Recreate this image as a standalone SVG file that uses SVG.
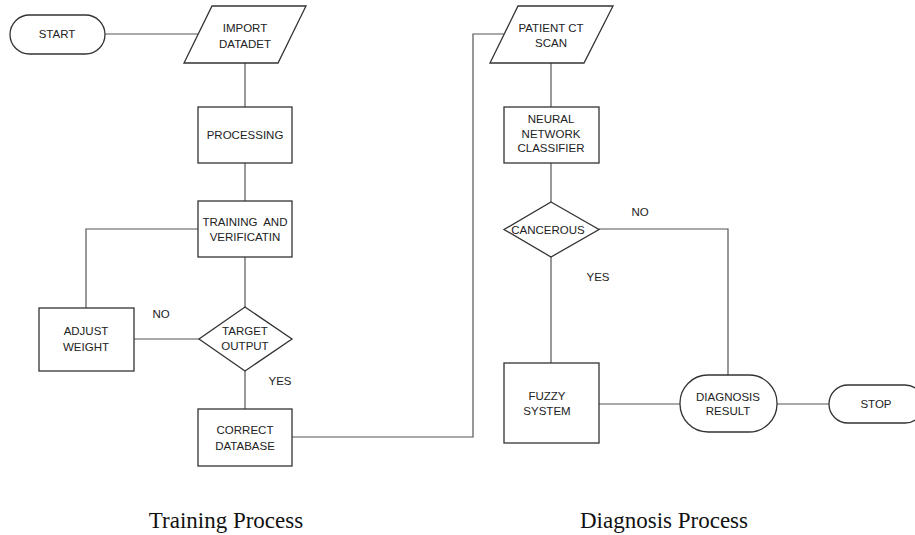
<svg xmlns="http://www.w3.org/2000/svg" width="915" height="535" viewBox="0 0 915 535">
<style>
.s{fill:#fff;stroke:#333;stroke-width:1.3}
.c{fill:none;stroke:#555;stroke-width:1.2}
.t{font-family:"Liberation Sans",Arial,sans-serif;font-size:11.5px;fill:#222;text-anchor:middle}
.cap{font-family:"Liberation Serif","Times New Roman",serif;font-size:23px;fill:#111;text-anchor:middle}
</style>
<rect width="915" height="535" fill="#fff"/>
<g id="connectors">
<path class="c" d="M105,34 H199"/>
<path class="c" d="M245,63 V107"/>
<path class="c" d="M245,163 V201"/>
<path class="c" d="M245,257 V307"/>
<path class="c" d="M245,371 V409"/>
<path class="c" d="M199,339 H134"/>
<path class="c" d="M86,308 V229 H198"/>
<path class="c" d="M292,437 H473 V34 H504"/>
<path class="c" d="M551,63 V107"/>
<path class="c" d="M551,163 V202"/>
<path class="c" d="M551,257 V363"/>
<path class="c" d="M599,229 H728 V375"/>
<path class="c" d="M599,404 H680"/>
<path class="c" d="M777,404 H829"/>
</g>
<g id="start"><rect class="s" x="10" y="15" width="95" height="39" rx="19.5"/><text class="t" x="57" y="38">START</text></g>
<g id="import"><polygon class="s" points="212,6 306,6 278,63 184,63"/><text class="t" x="245" y="32">IMPORT</text><text class="t" x="245" y="48">DATADET</text></g>
<g id="processing"><rect class="s" x="198" y="107" width="94" height="56"/><text class="t" x="245" y="139">PROCESSING</text></g>
<g id="training"><rect class="s" x="198" y="201" width="94" height="56"/><text class="t" x="245" y="226" xml:space="preserve">TRAINING  AND</text><text class="t" x="245" y="241">VERIFICATIN</text></g>
<g id="target"><polygon class="s" points="245,307 292,339 245,371 199,339"/><text class="t" x="245" y="335">TARGET</text><text class="t" x="245" y="350">OUTPUT</text></g>
<g id="adjust"><rect class="s" x="39" y="308" width="95" height="63"/><text class="t" x="86" y="335">ADJUST</text><text class="t" x="86" y="351">WEIGHT</text></g>
<text class="t" x="161" y="318">NO</text>
<text class="t" x="280" y="385">YES</text>
<g id="correct"><rect class="s" x="198" y="409" width="94" height="57"/><text class="t" x="245" y="434">CORRECT</text><text class="t" x="245" y="450">DATABASE</text></g>
<g id="patient"><polygon class="s" points="518,6 613,6 584,63 490,63"/><text class="t" x="551" y="32">PATIENT CT</text><text class="t" x="551" y="47">SCAN</text></g>
<g id="neural"><rect class="s" x="504" y="107" width="95" height="56"/><text class="t" x="551" y="123">NEURAL</text><text class="t" x="551" y="138">NETWORK</text><text class="t" x="551" y="152">CLASSIFIER</text></g>
<g id="cancerous"><polygon class="s" points="551,202 599,229.5 551,257 504,229.5"/><text class="t" x="548" y="233.5">CANCEROUS</text></g>
<text class="t" x="640" y="216">NO</text>
<text class="t" x="598" y="281">YES</text>
<g id="fuzzy"><rect class="s" x="504" y="363" width="95" height="80"/><text class="t" x="547" y="400">FUZZY</text><text class="t" x="547" y="415">SYSTEM</text></g>
<g id="diagnosis"><rect class="s" x="680" y="375" width="97" height="57" rx="28" ry="28"/><text class="t" x="728" y="401">DIAGNOSIS</text><text class="t" x="728" y="415">RESULT</text></g>
<g id="stop"><rect class="s" x="829" y="385" width="95" height="38" rx="19"/><text class="t" x="876" y="408">STOP</text></g>
<text class="cap" x="226" y="528">Training Process</text>
<text class="cap" x="664" y="528">Diagnosis Process</text>
</svg>
